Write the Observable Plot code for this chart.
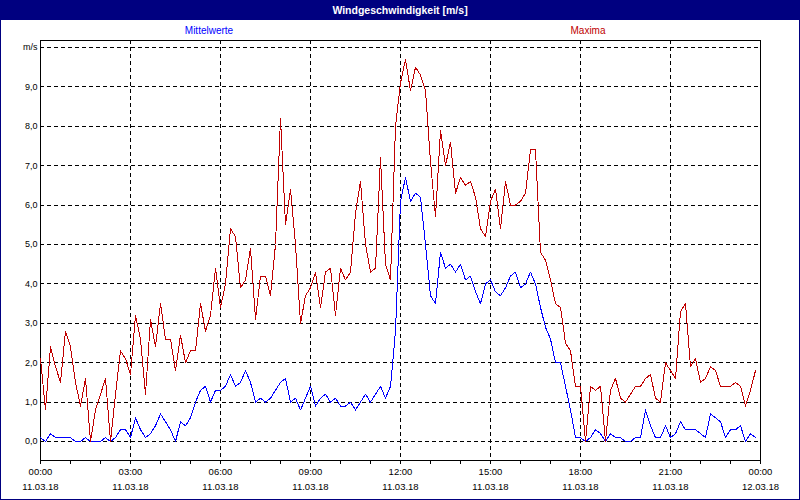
<!DOCTYPE html>
<html>
<head>
<meta charset="utf-8">
<script src="https://cdn.jsdelivr.net/npm/d3@7"></script>
<script src="https://cdn.jsdelivr.net/npm/@observablehq/plot@0.6"></script>
<style>
html,body{margin:0;padding:0;background:#fff;}
#wrap{position:relative;width:800px;height:500px;overflow:hidden;font-family:"Liberation Sans",Arial,sans-serif;background:#fff;}
#title{position:absolute;left:0;top:0;width:800px;height:20px;background:#000080;color:#fff;font-weight:bold;font-size:10.5px;line-height:20px;text-align:center;}
.leg{position:absolute;top:24px;font-size:10px;line-height:14px;transform:translateX(-50%);white-space:nowrap;}
#border{position:absolute;left:0;top:0;width:798px;height:498px;border:1px solid #000080;pointer-events:none;}
#chart{position:absolute;left:0;top:20px;}
</style>
</head>
<body>
<div id="wrap">
  <div id="title">Windgeschwindigkeit [m/s]</div>
  <div class="leg" style="left:209px;color:#0000ff">Mittelwerte</div>
  <div class="leg" style="left:588px;color:#c00000">Maxima</div>
  <div id="chart"></div>
  <div id="border"></div>
</div>
<script>
// Measurement series, one value every 10 minutes from 11.03.18 00:00
const startTime = "2018-03-11T00:00:00Z";
const stepMinutes = 10;

const mittelwerte = [
  0.1,0.0,0.2,0.1,0.1,0.1,0.1,0.0,0.0,0.1,
  0.0,0.0,0.0,0.1,0.0,0.1,0.3,0.3,0.1,0.6,
  0.3,0.1,0.2,0.4,0.7,0.5,0.3,0.0,0.5,0.4,
  0.6,1.0,1.3,1.4,1.0,1.3,1.3,1.4,1.7,1.4,
  1.5,1.8,1.5,1.0,1.1,1.0,1.1,1.3,1.5,1.6,
  1.0,1.1,0.8,1.1,1.4,0.9,1.1,1.2,1.0,1.1,
  0.9,0.9,1.0,0.8,1.0,1.2,1.0,1.2,1.4,1.1,
  1.4,2.8,6.1,6.7,6.1,6.3,6.2,5.0,3.7,3.5,
  4.8,4.4,4.5,4.3,4.5,4.1,4.2,3.8,3.5,4.0,
  4.1,3.8,3.7,3.9,4.2,4.3,3.9,4.0,4.3,4.0,
  3.4,2.9,2.6,2.0,2.0,1.4,0.8,0.1,0.1,0.0,
  0.1,0.3,0.2,0.0,0.2,0.1,0.1,0.0,0.0,0.1,
  0.1,0.8,0.4,0.1,0.1,0.4,0.1,0.2,0.5,0.3,
  0.3,0.3,0.2,0.1,0.7,0.6,0.5,0.1,0.3,0.3,
  0.4,0.0,0.2,0.1
];

const maxima = [
  2.1,0.8,2.4,1.9,1.5,2.8,2.4,1.5,0.9,1.6,
  0.0,0.8,1.2,1.6,0.0,1.2,2.3,2.1,1.7,3.2,
  2.6,1.2,3.1,2.4,3.5,2.6,2.6,1.8,2.7,2.0,
  2.3,2.3,3.5,2.8,3.2,4.4,3.4,4.0,5.4,5.2,
  3.9,4.1,4.9,3.1,4.2,4.2,3.7,5.0,8.2,5.5,
  6.4,5.0,3.0,3.7,3.9,4.3,3.4,4.3,4.4,3.2,
  4.4,4.1,4.3,5.8,6.6,5.0,4.3,4.4,7.2,4.5,
  4.1,8.0,9.1,9.7,8.9,9.5,9.3,8.9,7.1,5.7,
  7.9,7.0,7.6,6.3,6.7,6.5,6.6,6.2,5.4,5.2,
  6.1,6.4,5.4,6.6,6.0,6.0,6.1,6.3,7.4,7.4,
  4.8,4.6,4.1,3.5,3.4,2.5,2.3,1.4,1.4,0.0,
  1.4,1.3,1.4,0.0,1.3,1.6,1.1,1.0,1.2,1.4,
  1.4,1.6,1.7,1.1,1.0,2.0,1.8,1.6,3.3,3.5,
  1.9,2.1,1.5,1.6,1.9,1.8,1.4,1.4,1.4,1.5,
  1.4,0.9,1.3,1.8
];

const yTicks = [0,1,2,3,4,5,6,7,8,9,10];
const yUnitLabel = "m/s";

const start = new Date(startTime);
const end = new Date(start.getTime() + 24 * 3600000);
const rows = mittelwerte.map((v, i) => ({
  t: new Date(start.getTime() + i * stepMinutes * 60000),
  mittel: v,
  max: maxima[i]
}));

const labelTimes = d3.utcHour.every(3).range(start, new Date(end.getTime() + 1));
const hourTicks = d3.utcHour.range(start, new Date(end.getTime() + 1));
const fmtTime = d3.utcFormat("%H:%M");
const fmtDate = d3.utcFormat("%d.%m.%y");
const font = '"Liberation Sans", Arial, sans-serif';
const dash = "4,3";

const chart = Plot.plot({
  width: 800,
  height: 480,
  marginLeft: 40,
  marginRight: 40,
  marginTop: 20,
  marginBottom: 40,
  style: {fontFamily: font, fontSize: "9px", color: "#000", background: "transparent"},
  x: {type: "utc", domain: [start, end], label: null},
  y: {domain: [-0.482, 10.178], label: null},
  marks: [
    Plot.gridY(yTicks, {stroke: "#000", strokeOpacity: 1, strokeDasharray: dash, shapeRendering: "crispEdges"}),
    Plot.gridX(labelTimes, {stroke: "#000", strokeOpacity: 1, strokeDasharray: dash, shapeRendering: "crispEdges"}),
    Plot.frame({stroke: "#000", shapeRendering: "crispEdges"}),
    Plot.axisY(yTicks, {
      tickSize: 0, tickPadding: 3, label: null, fontSize: 9,
      tickFormat: d => d === 10 ? yUnitLabel : d.toFixed(1).replace(".", ",")
    }),
    Plot.axisX(hourTicks, {tickSize: 4, tickFormat: () => "", label: null}),
    Plot.text(labelTimes, {x: d => d, frameAnchor: "bottom", dy: 14, text: d => fmtTime(d), fontSize: 9.5}),
    Plot.text(labelTimes, {x: d => d, frameAnchor: "bottom", dy: 29, text: d => fmtDate(d), fontSize: 9.5}),
    Plot.line(rows, {x: "t", y: "mittel", stroke: "#0000ff", strokeWidth: 1, shapeRendering: "crispEdges"}),
    Plot.line(rows, {x: "t", y: "max", stroke: "#c00000", strokeWidth: 1, shapeRendering: "crispEdges"})
  ]
});
document.getElementById("chart").appendChild(chart);
</script>
</body>
</html>
